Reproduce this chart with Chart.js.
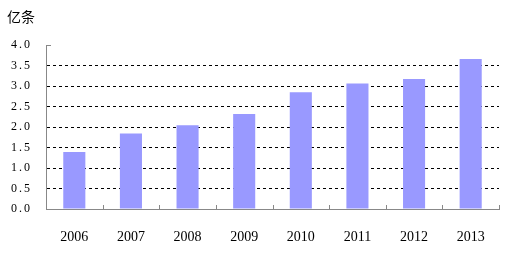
<!DOCTYPE html>
<html>
<head>
<meta charset="utf-8">
<script src="https://cdn.jsdelivr.net/npm/chart.js@4"></script>
<style>
  html, body { margin: 0; padding: 0; background: #fff; }
  #wrap { width: 509px; height: 253px; }
</style>
</head>
<body>
<div id="wrap"><canvas id="dataChart" width="509" height="253"></canvas></div>
<script>
// ============ DATA ============
const years = ["2006", "2007", "2008", "2009", "2010", "2011", "2012", "2013"];
const counts = [1.39, 1.84, 2.04, 2.32, 2.85, 3.06, 3.17, 3.66];
const yTicks = [0, 0.5, 1.0, 1.5, 2.0, 2.5, 3.0, 3.5, 4.0];
const unitLabel = "亿条";

const axisColor = "#888888";

// small extras: unit text, tick at top of y axis, inner ticks on x axis
const extras = {
    id: "extras",
    afterLayout(chart) {
        // y labels are set with wide letter spacing in the original
        const s = chart.scales.y;
        if (!s._spaced) {
            const orig = s.drawLabels.bind(s);
            s.drawLabels = function (area) {
                const c = this.ctx;
                c.save();
                c.letterSpacing = "2px";
                orig(area);
                c.restore();
            };
            s._spaced = true;
        }
    },
    afterDraw(chart) {
        const ctx = chart.ctx;
        const x = chart.scales.x, y = chart.scales.y;
        ctx.save();
        ctx.fillStyle = "#000";
        ctx.font = "14px 'Noto Sans CJK SC'";
        ctx.textBaseline = "middle";
        ctx.fillText(unitLabel, 7, 17);

        ctx.strokeStyle = axisColor;
        ctx.lineWidth = 1;
        const top = Math.round(y.getPixelForValue(4.0)) + 0.5;
        ctx.beginPath();
        ctx.moveTo(x.left, top);
        ctx.lineTo(x.left + 5, top);
        const bottom = y.bottom;
        for (let i = 1; i <= years.length; i++) {
            const px = Math.round(x.getPixelForValue(i - 0.5)) + 0.5;
            ctx.moveTo(px, bottom);
            ctx.lineTo(px, bottom - 4);
        }
        ctx.stroke();
        ctx.restore();
    }
};

new Chart(document.getElementById("dataChart").getContext("2d"), {
    type: "bar",
    data: {
        labels: years,
        datasets: [{
            data: counts,
            backgroundColor: "#9999ff",
            borderWidth: 0,
            barPercentage: 0.39,
            categoryPercentage: 1.0
        }]
    },
    options: {
        responsive: false,
        animation: false,
        layout: { padding: { top: 45, right: 10, left: 0, bottom: 0 } },
        plugins: { legend: { display: false }, tooltip: { enabled: false } },
        scales: {
            x: {
                grid: { display: false },
                border: { color: axisColor, width: 1 },
                ticks: {
                    color: "#000",
                    font: { family: "'Liberation Serif'", size: 14 },
                    padding: 12,
                    maxRotation: 0
                },
                afterFit(scale) { scale.height = 44; }
            },
            y: {
                min: 0,
                max: 4,
                afterBuildTicks(scale) { scale.ticks = yTicks.map(v => ({ value: v })); },
                grid: {
                    drawTicks: false,
                    color: ctx => (ctx.tick && ctx.tick.value > 0 && ctx.tick.value < 4) ? "#000" : "rgba(0,0,0,0)",
                    lineWidth: 1
                },
                border: { color: axisColor, width: 1, dash: [3, 3] },
                ticks: {
                    color: "#000",
                    font: { family: "'Liberation Serif'", size: 12 },
                    padding: 14,
                    callback: v => Number(v).toFixed(1)
                },
                afterFit(scale) { scale.width = 46; }
            }
        }
    },
    plugins: [extras]
});
</script>
</body>
</html>
